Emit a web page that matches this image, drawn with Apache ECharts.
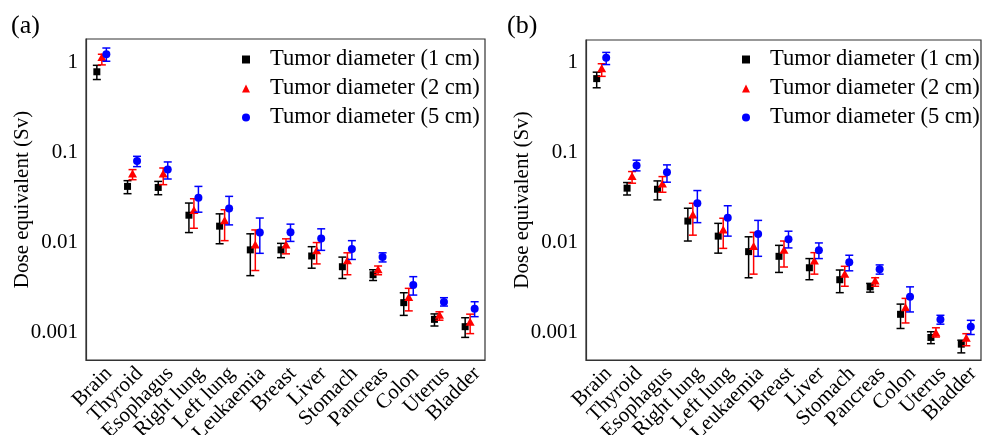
<!DOCTYPE html>
<html><head><meta charset="utf-8">
<script src="https://cdn.jsdelivr.net/npm/echarts@6/dist/echarts.min.js"></script>
<style>html,body{margin:0;padding:0;background:#fff}#c{width:982px;height:435px}</style>
</head><body><div id="c"></div>
<script>
const categories = ['Brain','Thyroid','Esophagus','Right lung','Left lung','Leukaemia','Breast','Liver','Stomach','Pancreas','Colon','Uterus','Bladder'];
const seriesNames = ['Tumor diameter (1 cm)','Tumor diameter (2 cm)','Tumor diameter (5 cm)'];
const yTickLabels = ['1','0.1','0.01','0.001'];

// Panel (a)
const a1Val  = [0.78, 0.0419, 0.0408, 0.0201, 0.0152, 0.0083, 0.0083, 0.0071, 0.0054, 0.0044, 0.00216, 0.00141, 0.00117];
const a1Low  = [0.64, 0.0348, 0.0339, 0.0129, 0.0097, 0.0043, 0.0068, 0.0052, 0.0040, 0.0038, 0.00156, 0.00119, 0.00089];
const a1High = [0.92, 0.0485, 0.0476, 0.0274, 0.0208, 0.0125, 0.0098, 0.0090, 0.0069, 0.0050, 0.00278, 0.00162, 0.00147];
const a2Val  = [1.12, 0.0575, 0.0575, 0.0227, 0.0174, 0.0094, 0.0094, 0.0081, 0.0063, 0.0050, 0.00247, 0.00157, 0.00131];
const a2Low  = [0.93, 0.0497, 0.0438, 0.0144, 0.0105, 0.0049, 0.0075, 0.0058, 0.0044, 0.0044, 0.00175, 0.00138, 0.00098];
const a2High = [1.22, 0.0643, 0.0670, 0.0306, 0.0231, 0.0138, 0.0110, 0.0100, 0.0077, 0.0055, 0.00311, 0.00171, 0.00161];
const a5Val  = [1.22, 0.0800, 0.0643, 0.0314, 0.0239, 0.0129, 0.0130, 0.0111, 0.0085, 0.0069, 0.00339, 0.00219, 0.00185];
const a5Low  = [1.02, 0.0694, 0.0506, 0.0217, 0.0157, 0.0076, 0.0103, 0.0082, 0.0065, 0.0061, 0.00262, 0.00198, 0.00151];
const a5High = [1.43, 0.0903, 0.0782, 0.0419, 0.0325, 0.0187, 0.0160, 0.0142, 0.0105, 0.0077, 0.00419, 0.00245, 0.00221];

// Panel (b)
const b1Val  = [0.67, 0.0406, 0.0395, 0.0175, 0.0119, 0.0080, 0.0071, 0.0053, 0.0039, 0.00325, 0.00161, 0.00089, 0.00075];
const b1Low  = [0.53, 0.0341, 0.0301, 0.0105, 0.0077, 0.0041, 0.0047, 0.0039, 0.0028, 0.00284, 0.00112, 0.00076, 0.00060];
const b1High = [0.79, 0.0469, 0.0489, 0.0243, 0.0165, 0.0117, 0.0094, 0.0067, 0.0050, 0.00355, 0.00209, 0.00103, 0.00083];
const b2Val  = [0.86, 0.0546, 0.0453, 0.0205, 0.0139, 0.0091, 0.0083, 0.0063, 0.0045, 0.00377, 0.00190, 0.00100, 0.00087];
const b2Low  = [0.71, 0.0461, 0.0366, 0.0122, 0.0087, 0.0045, 0.0054, 0.0045, 0.0033, 0.00330, 0.00129, 0.00090, 0.00072];
const b2High = [0.98, 0.0621, 0.0546, 0.0276, 0.0188, 0.0131, 0.0105, 0.0078, 0.0055, 0.00410, 0.00242, 0.00114, 0.00098];
const b5Val  = [1.14, 0.0724, 0.0611, 0.0276, 0.0191, 0.0126, 0.0110, 0.0083, 0.0061, 0.0051, 0.00252, 0.00141, 0.00117];
const b5Low  = [0.96, 0.0632, 0.0473, 0.0168, 0.0119, 0.0071, 0.0088, 0.0067, 0.0049, 0.0045, 0.00171, 0.00125, 0.00096];
const b5High = [1.31, 0.0831, 0.0737, 0.0382, 0.0259, 0.0178, 0.0135, 0.0100, 0.0073, 0.0057, 0.00325, 0.00157, 0.00138];

const FONT = '"Liberation Serif", "Times New Roman", serif';
const colors = ['#000000', '#ff0000', '#0000ff'];
const shapes = ['square', 'triangle', 'circle'];
const legendIcons = ['rect', 'triangle', 'circle'];
const offsets = [-4.5, 0.5, 5];

function rows(v, lo, hi) { return v.map((x, i) => [i, x, lo[i], hi[i]]); }

function makeRender(k) {
  const color = colors[k], shape = shapes[k], off = offsets[k];
  return function (params, api) {
    const c = api.value(0);
    const p = api.coord([c, api.value(1)]);
    const pl = api.coord([c, api.value(2)]);
    const ph = api.coord([c, api.value(3)]);
    const x = p[0] + off, y = p[1];
    const cap = 4;
    const ls = { stroke: color, lineWidth: 1.5 };
    const children = [
      { type: 'line', shape: { x1: x, y1: ph[1], x2: x, y2: pl[1] }, style: ls },
      { type: 'line', shape: { x1: x - cap, y1: ph[1], x2: x + cap, y2: ph[1] }, style: ls },
      { type: 'line', shape: { x1: x - cap, y1: pl[1], x2: x + cap, y2: pl[1] }, style: ls }
    ];
    if (shape === 'square') {
      children.push({ type: 'rect', shape: { x: x - 3.5, y: y - 3.5, width: 7, height: 7 }, style: { fill: color } });
    } else if (shape === 'triangle') {
      children.push({ type: 'polygon', shape: { points: [[x, y - 4.5], [x + 4.5, y + 3.5], [x - 4.5, y + 3.5]] }, style: { fill: color } });
    } else {
      children.push({ type: 'circle', shape: { cx: x, cy: y, r: 4 }, style: { fill: color } });
    }
    return { type: 'group', children };
  };
}

const panelData = [
  [rows(a1Val, a1Low, a1High), rows(a2Val, a2Low, a2High), rows(a5Val, a5Low, a5High)],
  [rows(b1Val, b1Low, b1High), rows(b2Val, b2Low, b2High), rows(b5Val, b5Low, b5High)]
];

const grids = [
  { left: 86, top: 39, width: 399, height: 321 },
  { left: 586, top: 40, width: 395, height: 320 }
];

const axisColor = '#333';
const xAxes = grids.map((g, i) => ({
  type: 'category', gridIndex: i, data: categories, boundaryGap: true,
  axisLine: { lineStyle: { color: axisColor, width: 1.2 } },
  axisTick: { inside: true, alignWithLabel: true, length: 7, lineStyle: { color: axisColor, width: 1.2 } },
  axisLabel: { rotate: 45, interval: 0, margin: 3, verticalAlign: 'top', color: '#000', fontFamily: FONT, fontSize: 21 },
  splitLine: { show: false }
}));
const yAxes = grids.map((g, i) => ({
  type: 'log', logBase: 10, gridIndex: i, min: 0.0005, max: 1.8,
  name: 'Dose equivalent (Sv)', nameLocation: 'middle', nameGap: 53, nameMoveOverlap: false,
  nameTextStyle: { color: '#000', fontFamily: FONT, fontSize: 21 },
  axisLine: { show: true, lineStyle: { color: axisColor, width: 1.2 } },
  axisTick: { inside: true, length: 6, lineStyle: { color: axisColor, width: 1.2 } },
  axisLabel: {
    margin: 8, color: '#000', fontFamily: FONT, fontSize: 21, showMinLabel: false, showMaxLabel: false,
    formatter: function (v) {
      const l = Math.log10(v); const r = Math.round(l);
      if (Math.abs(l - r) > 1e-6 || r > 0 || r < -3) return '';
      return yTickLabels[-r];
    }
  },
  splitLine: { show: false }, minorTick: { show: false }
}));

const series = [];
panelData.forEach((sets, pi) => {
  sets.forEach((d, k) => {
    series.push({
      type: 'custom', name: seriesNames[k], xAxisIndex: pi, yAxisIndex: pi,
      itemStyle: { color: colors[k] },
      encode: { x: 0, y: [1, 2, 3] },
      renderItem: makeRender(k), data: d, clip: false
    });
  });
});

const legends = [237, 737].map((left) => ({
  left: left, top: 43, orient: 'vertical', itemWidth: 8, itemHeight: 8, itemGap: 6,
  selectedMode: false,
  textStyle: { color: '#000', fontFamily: FONT, fontSize: 22.5, padding: [0, 0, 0, 15] },
  data: seriesNames.map((n, k) => ({ name: n, icon: legendIcons[k] }))
}));

const chart = echarts.init(document.getElementById('c'), null, { renderer: 'canvas' });
chart.setOption({
  backgroundColor: '#fff',
  animation: false,
  grid: grids.map(g => Object.assign({ show: true, containLabel: false, outerBoundsMode: 'none', borderColor: axisColor, borderWidth: 1.2, backgroundColor: 'transparent' }, g)),
  xAxis: xAxes, yAxis: yAxes, series: series, legend: legends,
  graphic: [
    { type: 'text', left: 11, top: 13, style: { text: '(a)', font: '26px ' + FONT, fill: '#000' } },
    { type: 'text', left: 507, top: 13, style: { text: '(b)', font: '26px ' + FONT, fill: '#000' } }
  ]
});
</script></body></html>
